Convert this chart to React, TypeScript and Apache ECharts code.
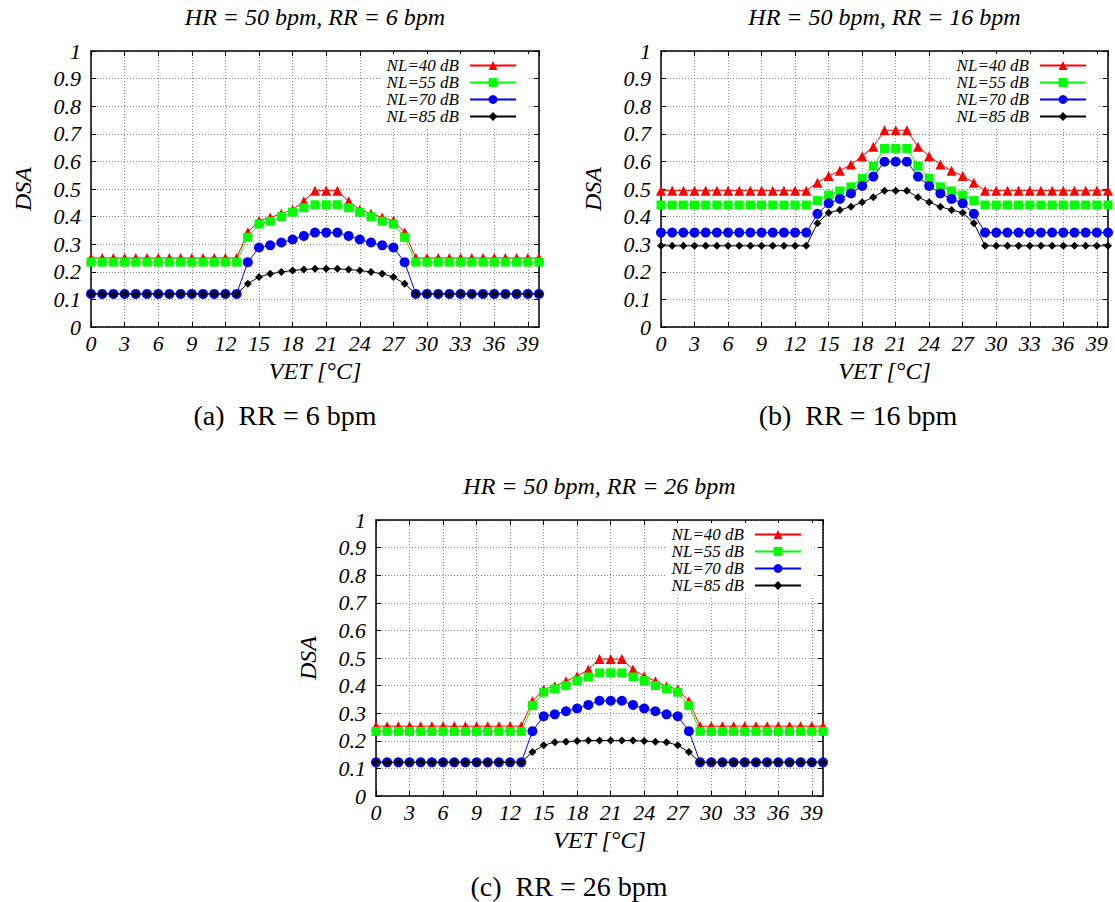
import React, { useEffect, useRef } from "react";
import * as echarts from "echarts";

// Temperature axis (VET, °C)
const VET = [
  0, 1, 2, 3, 4, 5, 6, 7, 8, 9, 10, 11, 12, 13, 14, 15, 16, 17, 18, 19, 20,
  21, 22, 23, 24, 25, 26, 27, 28, 29, 30, 31, 32, 33, 34, 35, 36, 37, 38, 39, 40,
];

const X_TICK_STEP = 3;
const Y_TICK_STEP = 0.1;

// (a) RR = 6 bpm
const A_NL40 = [
  0.25, 0.25, 0.25, 0.25, 0.25, 0.25, 0.25, 0.25, 0.25, 0.25, 0.25, 0.25, 0.25, 0.25,
  0.343, 0.385, 0.397, 0.41, 0.425, 0.456, 0.494, 0.494, 0.494, 0.456, 0.425, 0.41, 0.397, 0.385, 0.343,
  0.25, 0.25, 0.25, 0.25, 0.25, 0.25, 0.25, 0.25, 0.25, 0.25, 0.25, 0.25,
];
const A_NL55 = [
  0.235, 0.235, 0.235, 0.235, 0.235, 0.235, 0.235, 0.235, 0.235, 0.235, 0.235, 0.235, 0.235, 0.235,
  0.325, 0.373, 0.383, 0.4, 0.416, 0.432, 0.443, 0.443, 0.443, 0.432, 0.416, 0.4, 0.383, 0.373, 0.325,
  0.235, 0.235, 0.235, 0.235, 0.235, 0.235, 0.235, 0.235, 0.235, 0.235, 0.235, 0.235,
];
const A_NL70 = [
  0.12, 0.12, 0.12, 0.12, 0.12, 0.12, 0.12, 0.12, 0.12, 0.12, 0.12, 0.12, 0.12, 0.12,
  0.235, 0.288, 0.296, 0.306, 0.317, 0.33, 0.342, 0.342, 0.342, 0.33, 0.317, 0.306, 0.296, 0.288, 0.235,
  0.12, 0.12, 0.12, 0.12, 0.12, 0.12, 0.12, 0.12, 0.12, 0.12, 0.12, 0.12,
];
const A_NL85 = [
  0.12, 0.12, 0.12, 0.12, 0.12, 0.12, 0.12, 0.12, 0.12, 0.12, 0.12, 0.12, 0.12, 0.12,
  0.157, 0.181, 0.193, 0.199, 0.205, 0.208, 0.211, 0.211, 0.211, 0.208, 0.205, 0.199, 0.193, 0.181, 0.157,
  0.12, 0.12, 0.12, 0.12, 0.12, 0.12, 0.12, 0.12, 0.12, 0.12, 0.12, 0.12,
];

// (b) RR = 16 bpm
const B_NL40 = [
  0.494, 0.494, 0.494, 0.494, 0.494, 0.494, 0.494, 0.494, 0.494, 0.494, 0.494, 0.494, 0.494, 0.494,
  0.523, 0.547, 0.566, 0.589, 0.619, 0.653, 0.713, 0.713, 0.713, 0.653, 0.619, 0.589, 0.566, 0.547, 0.523,
  0.494, 0.494, 0.494, 0.494, 0.494, 0.494, 0.494, 0.494, 0.494, 0.494, 0.494, 0.494,
];
const B_NL55 = [
  0.442, 0.442, 0.442, 0.442, 0.442, 0.442, 0.442, 0.442, 0.442, 0.442, 0.442, 0.442, 0.442, 0.442,
  0.458, 0.478, 0.493, 0.508, 0.539, 0.583, 0.647, 0.647, 0.647, 0.583, 0.539, 0.508, 0.493, 0.478, 0.458,
  0.442, 0.442, 0.442, 0.442, 0.442, 0.442, 0.442, 0.442, 0.442, 0.442, 0.442, 0.442,
];
const B_NL70 = [
  0.342, 0.342, 0.342, 0.342, 0.342, 0.342, 0.342, 0.342, 0.342, 0.342, 0.342, 0.342, 0.342, 0.342,
  0.41, 0.448, 0.464, 0.484, 0.511, 0.545, 0.599, 0.599, 0.599, 0.545, 0.511, 0.484, 0.464, 0.448, 0.41,
  0.342, 0.342, 0.342, 0.342, 0.342, 0.342, 0.342, 0.342, 0.342, 0.342, 0.342, 0.342,
];
const B_NL85 = [
  0.294, 0.294, 0.294, 0.294, 0.294, 0.294, 0.294, 0.294, 0.294, 0.294, 0.294, 0.294, 0.294, 0.294,
  0.376, 0.414, 0.424, 0.436, 0.452, 0.47, 0.494, 0.494, 0.494, 0.47, 0.452, 0.436, 0.424, 0.414, 0.376,
  0.294, 0.294, 0.294, 0.294, 0.294, 0.294, 0.294, 0.294, 0.294, 0.294, 0.294, 0.294,
];

// (c) RR = 26 bpm
const C_NL40 = [
  0.253, 0.253, 0.253, 0.253, 0.253, 0.253, 0.253, 0.253, 0.253, 0.253, 0.253, 0.253, 0.253, 0.253,
  0.343, 0.386, 0.398, 0.416, 0.434, 0.458, 0.496, 0.496, 0.496, 0.458, 0.434, 0.416, 0.398, 0.386, 0.343,
  0.253, 0.253, 0.253, 0.253, 0.253, 0.253, 0.253, 0.253, 0.253, 0.253, 0.253, 0.253,
];
const C_NL55 = [
  0.234, 0.234, 0.234, 0.234, 0.234, 0.234, 0.234, 0.234, 0.234, 0.234, 0.234, 0.234, 0.234, 0.234,
  0.328, 0.376, 0.388, 0.4, 0.418, 0.431, 0.446, 0.446, 0.446, 0.431, 0.418, 0.4, 0.388, 0.376, 0.328,
  0.234, 0.234, 0.234, 0.234, 0.234, 0.234, 0.234, 0.234, 0.234, 0.234, 0.234, 0.234,
];
const C_NL70 = [
  0.122, 0.122, 0.122, 0.122, 0.122, 0.122, 0.122, 0.122, 0.122, 0.122, 0.122, 0.122, 0.122, 0.122,
  0.235, 0.289, 0.296, 0.307, 0.317, 0.33, 0.345, 0.345, 0.345, 0.33, 0.317, 0.307, 0.296, 0.289, 0.235,
  0.122, 0.122, 0.122, 0.122, 0.122, 0.122, 0.122, 0.122, 0.122, 0.122, 0.122, 0.122,
];
const C_NL85 = [
  0.122, 0.122, 0.122, 0.122, 0.122, 0.122, 0.122, 0.122, 0.122, 0.122, 0.122, 0.122, 0.122, 0.122,
  0.159, 0.184, 0.195, 0.197, 0.199, 0.201, 0.201, 0.201, 0.201, 0.201, 0.199, 0.197, 0.195, 0.184, 0.159,
  0.122, 0.122, 0.122, 0.122, 0.122, 0.122, 0.122, 0.122, 0.122, 0.122, 0.122, 0.122,
];

const SERIES_NAMES = ["NL=40 dB", "NL=55 dB", "NL=70 dB", "NL=85 dB"];
const SERIES_COLORS = ["#ff0000", "#00ff00", "#0000ff", "#000000"];
const SERIES_SYMBOLS = ["triangle", "rect", "circle", "diamond"];
const SERIES_SYMBOL_SIZES = [10, 9, 10, 8];

const TITLES = [
  "HR = 50 bpm, RR = 6 bpm",
  "HR = 50 bpm, RR = 16 bpm",
  "HR = 50 bpm, RR = 26 bpm",
];
const CAPTIONS = ["(a)  RR = 6 bpm", "(b)  RR = 16 bpm", "(c)  RR = 26 bpm"];
const PANEL_VALUES = [
  [A_NL40, A_NL55, A_NL70, A_NL85],
  [B_NL40, B_NL55, B_NL70, B_NL85],
  [C_NL40, C_NL55, C_NL70, C_NL85],
];

const FONT = '"Liberation Serif", "Times New Roman", serif';

// Plot rectangles of the three panels
const LAYOUT = [
  { left: 91, top: 51, width: 448, height: 276, caption: [285, 415] },
  { left: 661, top: 51, width: 447, height: 276, caption: [858, 415] },
  { left: 376, top: 520, width: 447, height: 276, caption: [569, 886] },
];
const PAGE_W = 1115;
const PAGE_H = 902;

function buildOption() {
  const grid: any[] = [];
  const xAxis: any[] = [];
  const yAxis: any[] = [];
  const series: any[] = [];
  const legend: any[] = [];
  const graphic: any[] = [];

  const borderLine = { show: true, onZero: false, lineStyle: { color: "#000", width: 1.5 } };
  const innerTick = { show: true, inside: true, length: 5, lineStyle: { color: "#000", width: 1 } };
  const gridLine = { show: true, lineStyle: { color: "#8a8a8a", width: 1, type: [1, 2] } };
  const tickLabel = {
    fontFamily: FONT,
    fontStyle: "italic",
    fontSize: 22,
    color: "#000",
  };
  const axisName = { fontFamily: FONT, fontStyle: "italic", fontSize: 24, color: "#000" };

  LAYOUT.forEach((L, i) => {
    grid.push({ left: L.left, top: L.top, width: L.width, height: L.height, containLabel: false });

    xAxis.push({
      type: "value",
      gridIndex: i,
      position: "bottom",
      min: 0,
      max: 40,
      interval: X_TICK_STEP,
      axisLine: borderLine,
      axisTick: innerTick,
      axisLabel: { ...tickLabel, margin: 5, showMaxLabel: false },
      splitLine: gridLine,
      name: "VET [°C]",
      nameLocation: "middle",
      nameGap: 32,
      nameTextStyle: axisName,
    });
    xAxis.push({
      type: "value",
      gridIndex: i,
      position: "top",
      min: 0,
      max: 40,
      interval: X_TICK_STEP,
      axisLine: borderLine,
      axisTick: innerTick,
      axisLabel: { show: false },
      splitLine: { show: false },
    });
    yAxis.push({
      type: "value",
      gridIndex: i,
      position: "left",
      min: 0,
      max: 1,
      interval: Y_TICK_STEP,
      axisLine: borderLine,
      axisTick: innerTick,
      axisLabel: { ...tickLabel, margin: 10 },
      splitLine: gridLine,
      name: "DSA",
      nameLocation: "middle",
      nameGap: 56,
      nameTextStyle: axisName,
    });
    yAxis.push({
      type: "value",
      gridIndex: i,
      position: "right",
      min: 0,
      max: 1,
      interval: Y_TICK_STEP,
      axisLine: borderLine,
      axisTick: innerTick,
      axisLabel: { show: false },
      splitLine: { show: false },
    });

    PANEL_VALUES[i].forEach((vals, k) => {
      series.push({
        type: "line",
        name: SERIES_NAMES[k],
        xAxisIndex: 2 * i,
        yAxisIndex: 2 * i,
        data: VET.map((x, j) => [x, vals[j]]),
        symbol: SERIES_SYMBOLS[k],
        symbolSize: SERIES_SYMBOL_SIZES[k],
        showSymbol: true,
        showAllSymbol: true,
        lineStyle: { color: SERIES_COLORS[k], width: 1 },
        itemStyle: { color: SERIES_COLORS[k] },
        emphasis: { disabled: true },
        z: 2 + k,
      });
    });

    // key in the upper right corner of each plot
    const keyRight = PAGE_W - (L.left + 426 + 12);
    legend.push({
      data: SERIES_NAMES,
      orient: "vertical",
      align: "right",
      right: keyRight,
      top: L.top + 3,
      itemWidth: 46,
      itemHeight: 11,
      itemGap: 0,
      padding: [3, 12, 4, 6],
      backgroundColor: "#ffffff",
      selectedMode: false,
      textStyle: {
        fontFamily: FONT,
        fontStyle: "italic",
        fontSize: 17,
        color: "#000",
        lineHeight: 17,
        padding: [0, 6, 0, 0],
      },
    });

    graphic.push({
      type: "text",
      x: L.left + L.width / 2,
      y: L.top - 34,
      style: {
        text: TITLES[i],
        fontFamily: FONT,
        fontStyle: "italic",
        fontSize: 24,
        fill: "#000",
        align: "center",
        verticalAlign: "middle",
      },
    });
    graphic.push({
      type: "text",
      x: L.caption[0],
      y: L.caption[1],
      style: {
        text: CAPTIONS[i],
        fontFamily: FONT,
        fontSize: 28,
        fill: "#000",
        align: "center",
        verticalAlign: "middle",
      },
    });
  });

  return {
    animation: false,
    backgroundColor: "#ffffff",
    grid,
    xAxis,
    yAxis,
    series,
    legend,
    graphic,
  };
}

export default function App() {
  const ref = useRef<HTMLDivElement>(null);

  useEffect(() => {
    if (!ref.current) return;
    const chart = echarts.init(ref.current, undefined, { renderer: "svg" });
    chart.setOption(buildOption());
    return () => chart.dispose();
  }, []);

  return (
    <div
      ref={ref}
      style={{ position: "absolute", left: 0, top: 0, width: PAGE_W, height: PAGE_H }}
    />
  );
}
